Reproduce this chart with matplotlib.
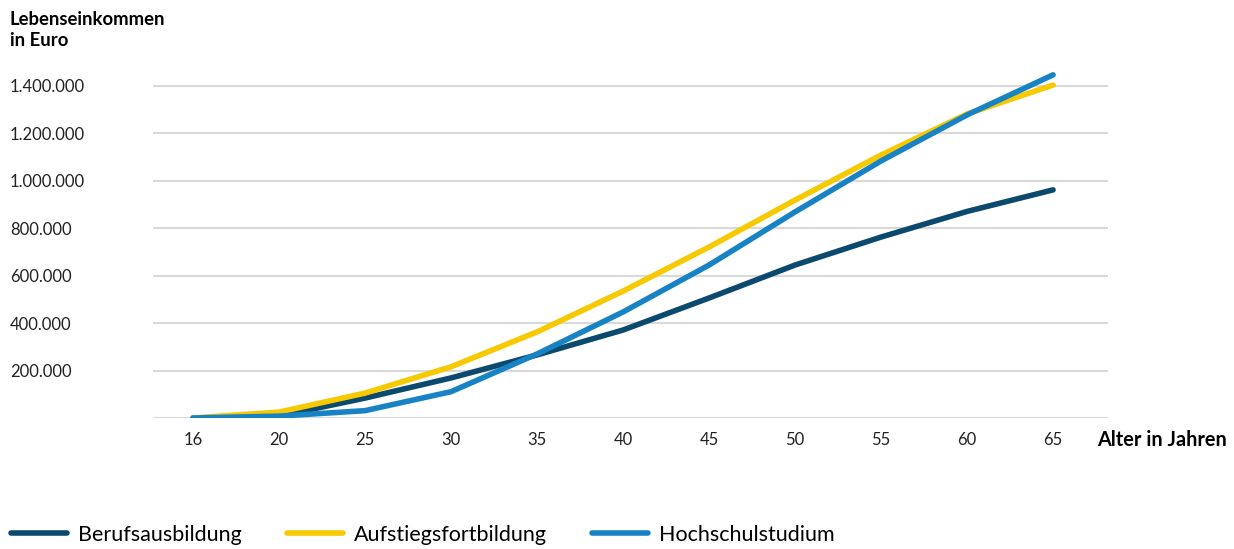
import matplotlib.pyplot as plt

plt.rcParams["font.family"] = ["Lato", "DejaVu Sans"]

ages = ["16", "20", "25", "30", "35", "40", "45", "50", "55", "60", "65"]
berufsausbildung = [0, 8000, 84000, 169000, 266000, 371000, 506000, 645000, 763000, 871000, 962000]
aufstiegsfortbildung = [0, 25000, 105000, 216000, 363000, 535000, 721000, 919000, 1109000, 1282000, 1404000]
hochschulstudium = [0, 8000, 31000, 111000, 270000, 447000, 645000, 869000, 1084000, 1278000, 1447000]

y_ticks = [0, 200000, 400000, 600000, 800000, 1000000, 1200000, 1400000]
y_labels = ["", "200.000", "400.000", "600.000", "800.000", "1.000.000", "1.200.000", "1.400.000"]

fig = plt.figure(figsize=(12.34, 5.49), dpi=100)
ax = fig.add_axes([0.124, 0.2386, 0.774, 0.648])

x = list(range(len(ages)))
ax.plot(x, berufsausbildung, color="#0b4a6e", lw=4, solid_capstyle="round",
        label="Berufsausbildung", zorder=3)
ax.plot(x, aufstiegsfortbildung, color="#f7c900", lw=4, solid_capstyle="round",
        label="Aufstiegsfortbildung", zorder=3)
ax.plot(x, hochschulstudium, color="#1783c4", lw=4, solid_capstyle="round",
        label="Hochschulstudium", zorder=4)

ax.set_xlim(-0.465, 10.64)
ax.set_ylim(0, 1500000)
ax.set_xticks(x)
ax.set_xticklabels(ages, fontsize=12, color="#222222")
ax.set_yticks(y_ticks)
ax.set_yticklabels(y_labels, fontsize=12, color="#222222", ha="left")
ax.tick_params(axis="y", length=0, pad=103)
ax.tick_params(axis="x", length=0, pad=10)
ax.grid(axis="y", color="#d9d9d9", lw=1.5)
ax.set_axisbelow(True)
for s in ax.spines.values():
    s.set_visible(False)

fig.text(0.008, 0.98, "Lebenseinkommen\nin Euro", fontsize=13.3, fontweight="bold",
         va="top", ha="left", linespacing=1.3)
fig.text(0.889, 0.198, "Alter in Jahren", fontsize=14.3, fontweight="bold",
         va="center", ha="left")

fig.legend(loc="lower left", bbox_to_anchor=(-0.003, -0.02), ncol=3, frameon=False,
           fontsize=15.5, handlelength=2.6, handletextpad=0.5, columnspacing=2.1,
           borderaxespad=0.3)

fig.savefig("out.png", dpi=100)
